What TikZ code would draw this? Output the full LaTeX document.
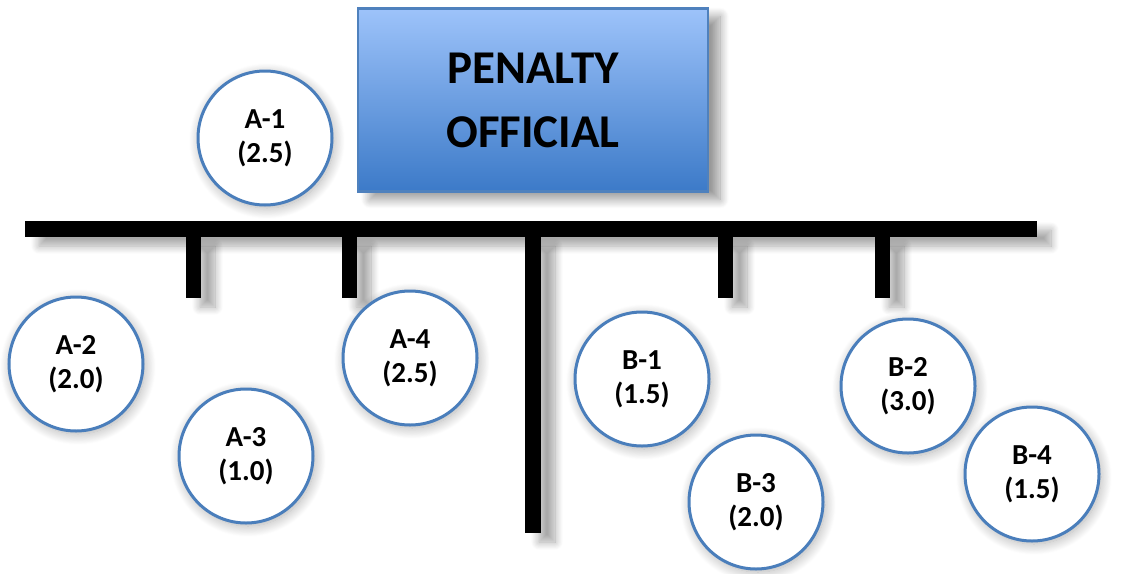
\documentclass[tikz,border=0pt]{standalone}
\usepackage{fontspec}
\setmainfont{Carlito}
\usepackage{tikz}
\usetikzlibrary{positioning, shadows.blur}
\definecolor{boxtop}{RGB}{157,195,250}
\definecolor{boxbottom}{RGB}{60,122,200}
\definecolor{boxborder}{RGB}{79,129,189}
\definecolor{seatblue}{RGB}{74,126,187}

\begin{document}
\begin{tikzpicture}[
    x=1pt, y=-1pt,
    official_box/.style={draw=boxborder, line width=2.5pt, top color=boxtop, bottom color=boxbottom,
        minimum width=350pt, minimum height=183pt, inner sep=0pt, align=center,
        font=\fontsize{47}{64}\selectfont\bfseries,
        blur shadow={shadow xshift=12pt, shadow yshift=-8pt, shadow blur radius=9pt, shadow blur steps=14, shadow opacity=40}},
    seat/.style={circle, draw=seatblue, line width=3pt, fill=white, minimum size=134pt, inner sep=0pt,
        align=center, font=\fontsize{29}{34}\selectfont\bfseries,
        blur shadow={shadow xshift=2pt, shadow yshift=-3pt, shadow scale=1.0, shadow blur radius=11pt, shadow blur steps=14, shadow opacity=32}},
    bar/.style={fill=black, blur shadow={shadow xshift=14pt, shadow yshift=-9pt, shadow blur radius=8pt, shadow blur steps=12, shadow opacity=35}}
]

    % page frame
    \useasboundingbox (0,0) rectangle (1124,573);

    % Penalty official box
    \node[official_box] (official) at (533,100) {PENALTY\\OFFICIAL};

    % Bench bar with drops
    \fill[bar] (25,221) rectangle (1037,237);
    \foreach \xpos in {186, 342, 718, 875} {
        \fill[bar] (\xpos,237) rectangle ++(15,61);
    }
    % Center line
    \fill[bar] (525,237) rectangle (541,533);

    % Team A seats
    \node[seat] (a1) at (265,138) {A-1\\(2.5)};
    \node[seat] (a2) at (76,364) {A-2\\(2.0)};
    \node[seat] (a3) at (246,456) {A-3\\(1.0)};
    \node[seat] (a4) at (410,358) {A-4\\(2.5)};

    % Team B seats
    \node[seat] (b1) at (642,379) {B-1\\(1.5)};
    \node[seat] (b2) at (908,386) {B-2\\(3.0)};
    \node[seat] (b3) at (756,502) {B-3\\(2.0)};
    \node[seat] (b4) at (1032,474) {B-4\\(1.5)};

\end{tikzpicture}
\end{document}
